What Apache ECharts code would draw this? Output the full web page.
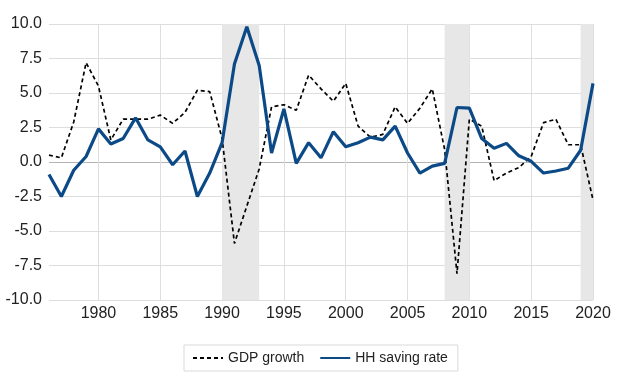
<!DOCTYPE html>
<html>
<head>
<meta charset="utf-8">
<script src="https://cdn.jsdelivr.net/npm/echarts@6/dist/echarts.min.js"></script>
<style>
html,body{margin:0;padding:0;background:#fff;}
#chart{width:618px;height:382px;}
</style>
</head>
<body>
<div id="chart"></div>
<script>
const years = [];
for (let y = 1976; y <= 2020; y++) years.push(String(y));

const gdpGrowth = [0.5, 0.3, 2.9, 7.2, 5.5, 1.6, 3.1, 3.1, 3.1, 3.4,
  2.8, 3.6, 5.2, 5.1, 1.7, -5.9, -3.2, -0.5, 4.0, 4.15,
  3.75, 6.3, 5.3, 4.4, 5.7, 2.6, 1.8, 2.0, 4.0, 2.8,
  3.9, 5.3, 0.9, -8.1, 3.1, 2.6, -1.35, -0.8, -0.4, 0.4,
  2.85, 3.1, 1.25, 1.25, -2.75];

const hhSavingRate = [-0.9, -2.5, -0.6, 0.4, 2.4, 1.3, 1.7, 3.2, 1.6, 1.1,
  -0.2, 0.8, -2.5, -0.8, 1.4, 7.1, 9.8, 7.0, 0.65, 3.85,
  -0.1, 1.4, 0.3, 2.2, 1.1, 1.4, 1.8, 1.6, 2.6, 0.65,
  -0.8, -0.3, -0.1, 3.95, 3.9, 1.7, 1.0, 1.35, 0.45, 0.05,
  -0.8, -0.65, -0.45, 0.85, 5.7];

const recessions = [['1990', '1993'], ['2008', '2010'], ['2019', '2020']];

const yTicks = [-10, -7.5, -5, -2.5, 0, 2.5, 5, 7.5, 10];

const chart = echarts.init(document.getElementById('chart'), null, {renderer: 'canvas'});
const FONT = 'Liberation Sans';
const gridColors = yTicks.map(v => v === 0 ? '#b4b4b4' : '#dedede');

chart.setOption({
  animation: false,
  backgroundColor: '#ffffff',
  textStyle: {fontFamily: FONT},
  grid: {left: 49, right: 25, top: 24, bottom: 82, containLabel: false, outerBoundsMode: 'none'},
  legend: {
    show: true,
    orient: 'horizontal',
    left: 184,
    top: 345,
    padding: [6, 10, 6, 8],
    borderColor: '#d9d9d9',
    borderWidth: 1,
    itemWidth: 30,
    itemHeight: 14,
    itemGap: 15,
    itemStyle: {opacity: 0, borderWidth: 0},
    textStyle: {fontFamily: FONT, fontSize: 14, color: '#222'}
  },
  xAxis: {
    type: 'category',
    data: years,
    boundaryGap: false,
    axisLine: {show: false},
    axisTick: {show: false},
    axisLabel: {
      interval: (i, v) => Number(v) % 5 === 0,
      fontFamily: FONT, fontSize: 16, color: '#222', margin: 6
    },
    splitLine: {
      show: true,
      interval: (i, v) => Number(v) % 5 === 0 && Number(v) > 1976,
      lineStyle: {color: '#dedede', width: 1}
    }
  },
  yAxis: {
    type: 'value',
    min: -10, max: 10, interval: 2.5,
    axisLine: {show: false},
    axisTick: {show: false},
    axisLabel: {
      formatter: v => v.toFixed(1),
      fontFamily: FONT, fontSize: 16, color: '#222', margin: 7
    },
    splitLine: {lineStyle: {color: gridColors, width: 1}}
  },
  series: [
    {
      name: 'GDP growth',
      type: 'line',
      data: gdpGrowth,
      symbol: 'none',
      showSymbol: false,
      z: 3,
      color: '#000',
      lineStyle: {color: '#000', width: 1.7, type: [4, 3]},
      markArea: {
        silent: true,
        itemStyle: {color: '#e7e7e7'},
        data: recessions.map(r => [{xAxis: r[0]}, {xAxis: r[1]}])
      }
    },
    {
      name: 'HH saving rate',
      type: 'line',
      data: hhSavingRate,
      symbol: 'none',
      showSymbol: false,
      z: 4,
      color: '#0B4A87',
      lineStyle: {color: '#0B4A87', width: 3.2}
    }
  ]
});
</script>
</body>
</html>
